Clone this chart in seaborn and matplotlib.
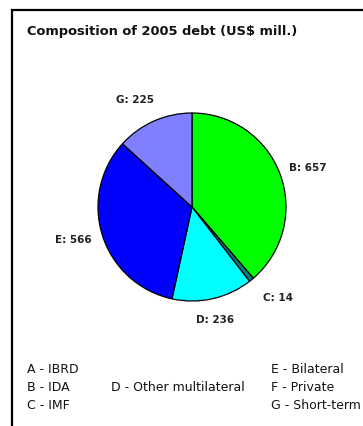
import matplotlib
matplotlib.use("Agg")
import matplotlib.pyplot as plt
import matplotlib.patches as mpatches
import seaborn as sns

# Composition of 2005 debt, US$ millions
codes = ["A", "B", "C", "D", "E", "F", "G"]
values = [0, 657, 14, 236, 566, 0, 225]
colors = ["#FF0000", "#00FF00", "#008080", "#00FFFF", "#0000FF", "#FF00FF", "#8080FF"]

legend_names = ["IBRD", "IDA", "IMF", "Other multilateral", "Bilateral", "Private", "Short-term"]

title = "Composition of 2005 debt (US$ mill.)"

sns.set_theme(style="white")
plt.rcParams["font.family"] = ["DejaVu Sans"]

W, H = 363, 427
fig = plt.figure(figsize=(W / 100, H / 100), dpi=100)

# pie centre and radius in pixels
cx, cy, r = 192, 208, 94
ax = fig.add_axes([(cx - r) / W, (H - cy - r) / H, 2 * r / W, 2 * r / H])

wedges, _ = ax.pie(
    values, colors=colors, startangle=90, counterclock=False, radius=1,
    wedgeprops=dict(edgecolor="black", linewidth=0.9),
)
ax.set_xlim(-1, 1)
ax.set_ylim(-1, 1)
ax.set_aspect("equal")
ax.axis("off")

# value labels, placed around the pie (pixel positions of label centres)
label_pos = {"G": (135, 100), "B": (308, 168), "C": (278, 298), "D": (215, 320), "E": (73, 240)}
for code, val in zip(codes, values):
    if val == 0:
        continue
    px, py = label_pos[code]
    fig.text(px / W, 1 - py / H, f"{code}: {val}", ha="center", va="center",
             fontsize=7.5, fontweight="bold", color="#222222")

# title
fig.text(27 / W, 1 - 32 / H, title, ha="left", va="center",
         fontsize=9.4, fontweight="bold", color="#111111")

# outer frame (runs off the right and bottom edges)
frame = mpatches.Rectangle((12 / W, -0.05), 1.2, 1 - 11 / H + 0.05,
                           transform=fig.transFigure, fill=False,
                           edgecolor="black", linewidth=1.6)
fig.patches.append(frame)

# code legend in three columns
col_x = [27, 111, 271]
row_y = [370, 388, 406]
entries = [
    (0, 0, 0), (1, 0, 1), (2, 0, 2),
    (3, 1, 1),
    (4, 2, 0), (5, 2, 1), (6, 2, 2),
]
for idx, col, row in entries:
    fig.text(col_x[col] / W, 1 - row_y[row] / H, f"{codes[idx]} - {legend_names[idx]}",
             ha="left", va="center", fontsize=9, color="#111111")

fig.savefig("out.png", dpi=100)
